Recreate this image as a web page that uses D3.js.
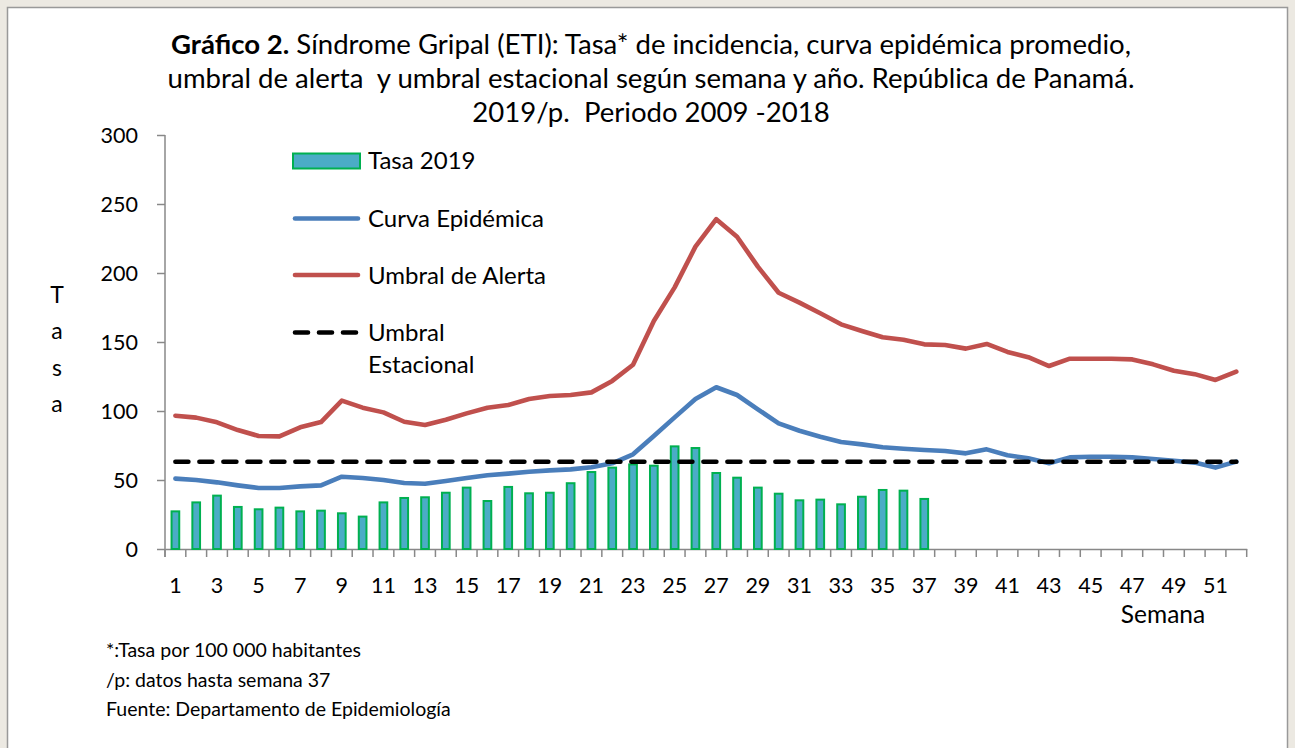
<!DOCTYPE html>
<html>
<head>
<meta charset="utf-8">
<script src="https://cdn.jsdelivr.net/npm/d3@7"></script>
<style>
  body { margin: 0; background: #ece9e2; }
  svg { display: block; font-family: Lato, "Open Sans", sans-serif; }
  text { white-space: pre; }
</style>
</head>
<body>
<svg id="chart" width="1295" height="748"></svg>
<script>
// semanas epidemiologicas
var semanas = d3.range(1, 53);

// Tasa 2019 (datos hasta semana 37)
var tasa2019 = [28, 34.5, 39.4, 31.2, 29.5, 30.7, 28, 28.5, 26.6, 24.2,
  34.5, 37.7, 38.2, 41.5, 45.2, 35.5, 45.7, 41.1, 41.5, 48.4,
  56.5, 59.7, 62, 61.1, 75.1, 73.9, 55.8, 52.4, 45.2, 40.8,
  36, 36.5, 33.1, 38.6, 43.5, 43, 37];

// curva epidemica promedio 2009-2018
var curvaEpidemica = [51, 50, 48.3, 46.1, 44.2, 44.2, 45.4, 46.1, 52.4, 51.4,
  50, 47.8, 47.3, 49.3, 51.4, 53.4, 54.6, 56, 57, 57.7,
  59.2, 62.1, 68.6, 81.9, 95.4, 108.7, 117.2, 111.6, 101.2, 91,
  85.7, 81.4, 77.5, 75.8, 73.7, 72.7, 71.7, 71, 69.3, 72.2,
  68, 65.7, 62.1, 66.4, 66.9, 66.9, 66.4, 65.2, 64, 62.6,
  59, 63.3];

// umbral de alerta
var umbralAlerta = [96.6, 95.2, 91.8, 86.2, 81.9, 81.6, 88.2, 92, 107.5, 102.4,
  99, 92.2, 89.9, 93.7, 98.3, 102.4, 104.3, 108.7, 110.9, 111.6,
  113.5, 121.8, 133.5, 165.2, 189.6, 219.1, 239, 226.3, 204.6, 185.7,
  178.5, 170.8, 162.8, 158, 153.4, 151.6, 148.3, 147.8, 145.2, 148.6,
  142.8, 139, 132.6, 137.9, 137.9, 137.9, 137.4, 133.8, 129.2, 126.7,
  122.5, 128.5];

// umbral estacional (constante)
var umbralEstacional = 63.2;

var yTicks = [0, 50, 100, 150, 200, 250, 300];
var xLabels = semanas.filter(function(d) { return d % 2 === 1; });

var tituloLineas = [
  ["Gráfico 2.", " Síndrome Gripal (ETI): Tasa* de incidencia, curva epidémica promedio,"],
  ["", "umbral de alerta  y umbral estacional según semana y año. República de Panamá."],
  ["", "2019/p.  Periodo 2009 -2018"]
];
var notas = ["*:Tasa por 100 000 habitantes", "/p: datos hasta semana 37", "Fuente: Departamento de Epidemiología"];

var colBarFill = "#4bacc6", colBarStroke = "#00b050",
    colCurva = "#4a7ebb", colAlerta = "#c0504d", colEst = "#000";

var svg = d3.select("#chart");

// fondo y panel blanco
svg.append("rect").attr("width", 1295).attr("height", 748).attr("fill", "#ece9e2");
svg.append("rect")
  .attr("x", 7.5).attr("y", 7.5).attr("width", 1280).attr("height", 780)
  .attr("fill", "#fff").attr("stroke", "#999").attr("stroke-width", 1.5);

var margin = {top: 135, left: 165, right: 48.3, bottom: 199};
var plotW = 1295 - margin.left - margin.right,
    plotH = 748 - margin.top - margin.bottom;

var g = svg.append("g").attr("transform", "translate(" + margin.left + "," + margin.top + ")");

var x = d3.scaleBand().domain(semanas).range([0, plotW]).padding(0);
var y = d3.scaleLinear().domain([0, 300]).range([plotH, 0]);
var bw = x.bandwidth();
var cx = function(w) { return x(w) + bw / 2; };

// eje y
var yAxis = g.append("g")
  .call(d3.axisLeft(y).tickValues(yTicks).tickSize(8).tickPadding(19));
yAxis.select(".domain").remove();
yAxis.selectAll(".tick line").attr("stroke", "#888").attr("stroke-width", 1.5);
yAxis.selectAll("text").attr("font-size", 21.5).attr("fill", "#000")
  .attr("font-family", "Lato").attr("dy", "0.37em");
g.append("line").attr("x1", 0).attr("x2", 0).attr("y1", 0).attr("y2", plotH + 8)
  .attr("stroke", "#888").attr("stroke-width", 1.5);

// eje x
var xAxis = g.append("g").attr("transform", "translate(0," + plotH + ")")
  .call(d3.axisBottom(x).tickValues(xLabels).tickSize(0));
xAxis.select(".domain").attr("stroke", "#888").attr("stroke-width", 1.5);
xAxis.selectAll("text").attr("font-size", 21.5).attr("fill", "#000")
  .attr("font-family", "Lato").attr("dy", null).attr("y", 44);
var bordes = semanas.map(function(w) { return x(w); }).concat([plotW]);
xAxis.selectAll(".borde").data(bordes).enter().append("line")
  .attr("class", "borde")
  .attr("x1", function(d) { return d; }).attr("x2", function(d) { return d; })
  .attr("y1", 0).attr("y2", 8)
  .attr("stroke", "#888").attr("stroke-width", 1.5);

// barras Tasa 2019
var barW = bw * 0.37;
g.selectAll(".bar").data(tasa2019).enter().append("rect")
  .attr("class", "bar")
  .attr("x", function(d, i) { return cx(semanas[i]) - barW / 2; })
  .attr("y", function(d) { return y(d) + 1; })
  .attr("width", barW)
  .attr("height", function(d) { return y(0) - y(d) - 1; })
  .attr("fill", colBarFill).attr("stroke", colBarStroke).attr("stroke-width", 2);

var line = d3.line()
  .x(function(d, i) { return cx(semanas[i]); })
  .y(function(d) { return y(d); });

g.append("path").datum(curvaEpidemica).attr("d", line)
  .attr("fill", "none").attr("stroke", colCurva).attr("stroke-width", 4.6)
  .attr("stroke-linejoin", "round").attr("stroke-linecap", "round");

g.append("path").datum(umbralAlerta).attr("d", line)
  .attr("fill", "none").attr("stroke", colAlerta).attr("stroke-width", 4.6)
  .attr("stroke-linejoin", "round").attr("stroke-linecap", "round");

g.append("line")
  .attr("x1", cx(semanas[0])).attr("x2", cx(semanas[semanas.length - 1]))
  .attr("y1", y(umbralEstacional)).attr("y2", y(umbralEstacional))
  .attr("stroke", colEst).attr("stroke-width", 4.6)
  .attr("stroke-dasharray", "13,11").attr("stroke-linecap", "round");

// leyenda
var leg = svg.append("g").attr("font-size", 24).attr("fill", "#000");
leg.append("rect").attr("x", 293).attr("y", 153.5).attr("width", 67).attr("height", 15)
  .attr("fill", colBarFill).attr("stroke", colBarStroke).attr("stroke-width", 2);
leg.append("text").attr("x", 368).attr("y", 169).text("Tasa 2019");
var legLines = [
  {y: 218.5, color: colCurva, dash: null, txt: ["Curva Epidémica"]},
  {y: 275, color: colAlerta, dash: null, txt: ["Umbral de Alerta"]},
  {y: 332.5, color: colEst, dash: "13,11", txt: ["Umbral", "Estacional"]}
];
legLines.forEach(function(l) {
  leg.append("line").attr("x1", 295).attr("x2", 358).attr("y1", l.y).attr("y2", l.y)
    .attr("stroke", l.color).attr("stroke-width", 4.6).attr("stroke-linecap", "round")
    .attr("stroke-dasharray", l.dash);
  l.txt.forEach(function(t, j) {
    leg.append("text").attr("x", 368).attr("y", l.y + 8.5 + j * 32).text(t);
  });
});

// titulo
var tit = svg.append("g").attr("font-size", 22).attr("fill", "#000");
tituloLineas.forEach(function(p, i) {
  var t = tit.append("text").attr("x", 651).attr("y", 54 + i * 34).attr("text-anchor", "middle");
  if (p[0]) t.append("tspan").attr("font-weight", "bold").text(p[0]);
  t.append("tspan").text(p[1]);
});
// ajustar tamano del titulo al ancho de la linea 1
var w1 = tit.select("text").node().getComputedTextLength();
tit.attr("font-size", 22 * 960 / w1);

// titulo eje y
"Tasa".split("").forEach(function(c, i) {
  svg.append("text").attr("x", 57).attr("y", 303 + i * 36.3)
    .attr("text-anchor", "middle").attr("font-size", 23).text(c);
});
svg.append("text").attr("x", 1163).attr("y", 623).attr("text-anchor", "middle")
  .attr("font-size", 24.5).text("Semana");

// notas
notas.forEach(function(n, i) {
  svg.append("text").attr("x", 106).attr("y", 657 + i * 29.7)
    .attr("font-size", 19.5).text(n);
});
</script>
</body>
</html>
